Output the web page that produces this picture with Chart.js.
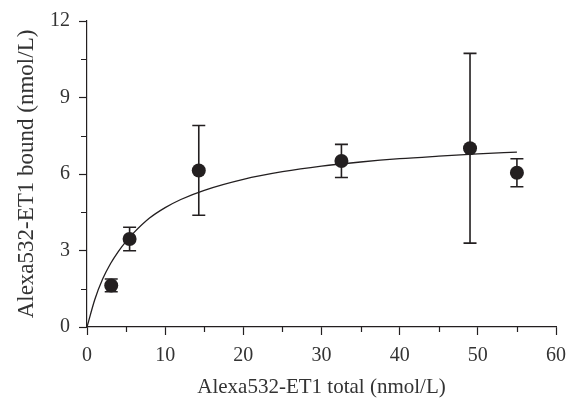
<!DOCTYPE html>
<html>
<head>
<meta charset="utf-8">
<script src="https://cdn.jsdelivr.net/npm/chart.js@4"></script>
<style>
  html, body { margin: 0; padding: 0; background: #fff; }
  #wrap { width: 576px; height: 400px; position: relative; }
</style>
</head>
<body>
<div id="wrap"><canvas id="c" width="576" height="400"></canvas></div>
<script>
// Measured points (x = total, y = bound, err = +/- error bar)
const totalX   = [3.1, 5.45, 14.3, 32.55, 49.0, 55.0];
const boundY   = [1.63, 3.45, 6.14, 6.51, 7.01, 6.05];
const boundErr = [0.25, 0.46, 1.76, 0.65, 3.72, 0.55];

// Fitted curve
const fitX = [0, 1, 2, 3, 4, 5, 6, 8, 10, 12, 15, 20, 25, 30, 35, 40, 45, 50, 55];
const fitY = [0, 1.08, 1.88, 2.48, 2.96, 3.36, 3.70, 4.27, 4.68, 5.00, 5.36, 5.79, 6.09, 6.31, 6.47, 6.60, 6.70, 6.79, 6.86];

const xMajorTicks = [0, 10, 20, 30, 40, 50, 60];
const yMajorTicks = [0, 3, 6, 9, 12];
const xTitle = 'Alexa532-ET1 total (nmol/L)';
const yTitle = 'Alexa532-ET1 bound (nmol/L)';

const INK = '#231f20';
const TEXT = '#333333';
const FONT = 'Liberation Serif';

const errorBars = {
  id: 'errorBars',
  beforeDatasetsDraw(chart) {
    const ctx = chart.ctx, xs = chart.scales.x, ys = chart.scales.y;
    ctx.save();
    ctx.strokeStyle = INK;
    ctx.lineWidth = 1.6;
    for (let i = 0; i < totalX.length; i++) {
      const px = xs.getPixelForValue(totalX[i]);
      const top = ys.getPixelForValue(boundY[i] + boundErr[i]);
      const bot = ys.getPixelForValue(boundY[i] - boundErr[i]);
      ctx.beginPath();
      ctx.moveTo(px, top); ctx.lineTo(px, bot);
      ctx.moveTo(px - 6.5, top); ctx.lineTo(px + 6.5, top);
      ctx.moveTo(px - 6.5, bot); ctx.lineTo(px + 6.5, bot);
      ctx.stroke();
    }
    ctx.restore();
  }
};

const minorTicks = {
  id: 'minorTicks',
  afterDraw(chart) {
    const ctx = chart.ctx, xs = chart.scales.x, ys = chart.scales.y;
    const area = chart.chartArea;
    ctx.save();
    ctx.strokeStyle = INK;
    ctx.lineWidth = 1.2;
    ctx.beginPath();
    for (let v = 5; v < 60; v += 10) {
      const px = Math.round(xs.getPixelForValue(v)) + 0.5;
      ctx.moveTo(px, area.bottom); ctx.lineTo(px, area.bottom + 5);
    }
    for (let v = 1.5; v < 12; v += 3) {
      const py = Math.round(ys.getPixelForValue(v)) + 0.5;
      ctx.moveTo(area.left, py); ctx.lineTo(area.left - 6, py);
    }
    ctx.stroke();
    ctx.restore();
  }
};

new Chart(document.getElementById('c'), {
  type: 'scatter',
  data: {
    datasets: [
      {
        type: 'line',
        data: fitX.map((x, i) => ({ x, y: fitY[i] })),
        borderColor: INK,
        borderWidth: 1.3,
        pointRadius: 0,
        fill: false,
        cubicInterpolationMode: 'monotone',
        order: 2
      },
      {
        data: totalX.map((x, i) => ({ x, y: boundY[i] })),
        backgroundColor: INK,
        borderColor: INK,
        pointRadius: 7,
        pointBorderWidth: 0,
        order: 1
      }
    ]
  },
  options: {
    responsive: false,
    animation: false,
    layout: { padding: { top: 14, right: 20, left: 0, bottom: 0 } },
    plugins: { legend: { display: false }, tooltip: { enabled: false } },
    scales: {
      x: {
        type: 'linear', min: 0, max: 60,
        afterFit(s) { s.height = 73; },
        afterBuildTicks(s) { s.ticks = xMajorTicks.map(v => ({ value: v })); },
        border: { display: true, color: INK, width: 1.2 },
        grid: { drawOnChartArea: false, drawTicks: true, tickLength: 8, tickColor: INK, tickWidth: 1.2 },
        ticks: { color: TEXT, padding: 9, font: { family: FONT, size: 20 }, maxRotation: 0 },
        title: { display: true, text: xTitle, color: TEXT, font: { family: FONT, size: 21 }, padding: { top: 0, bottom: 0 } }
      },
      y: {
        type: 'linear', min: 0, max: 12,
        afterFit(s) { s.width = 87; },
        afterBuildTicks(s) { s.ticks = yMajorTicks.map(v => ({ value: v })); },
        border: { display: true, color: INK, width: 1.2 },
        grid: { drawOnChartArea: false, drawTicks: true, tickLength: 8, tickColor: INK, tickWidth: 1.2 },
        ticks: { color: TEXT, padding: 9, font: { family: FONT, size: 20 } },
        title: { display: true, text: yTitle, color: TEXT, font: { family: FONT, size: 23 }, padding: { top: 13, bottom: 0 } }
      }
    }
  },
  plugins: [errorBars, minorTicks]
});
</script>
</body>
</html>
